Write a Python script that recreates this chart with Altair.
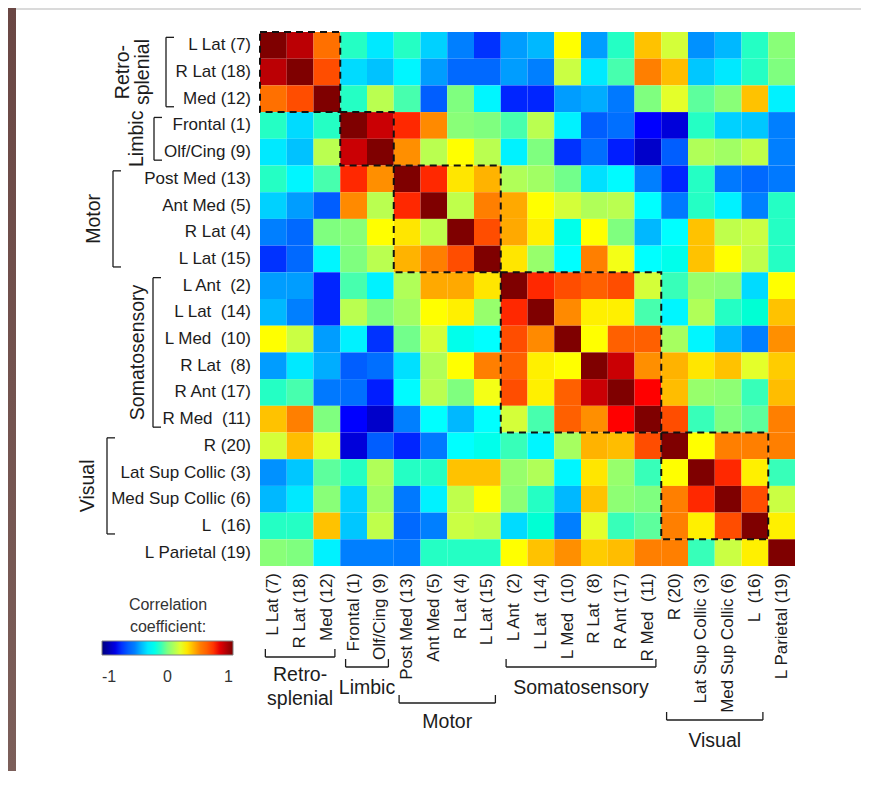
import altair as alt
import pandas as pd

# ---------------- data ----------------
region_labels = [
    "L Lat (7)", "R Lat (18)", "Med (12)", "Frontal (1)", "Olf/Cing (9)",
    "Post Med (13)", "Ant Med (5)", "R Lat (4)", "L Lat (15)",
    "L Ant\u00a0 (2)", "L Lat\u00a0 (14)", "L Med\u00a0 (10)", "R Lat\u00a0 (8)",
    "R Ant (17)", "R Med\u00a0 (11)", "R (20)", "Lat Sup Collic (3)",
    "Med Sup Collic (6)", "L\u00a0 (16)", "L Parietal (19)",
]
group_names = ["Retro-splenial", "Limbic", "Motor", "Somatosensory", "Visual"]
group_first = [0, 3, 5, 9, 15]
group_last = [2, 4, 8, 14, 18]

# upper triangle of the correlation matrix (row i, columns i+1 .. 19)
upper_0 = [0.88, 0.55, -0.12, -0.30, -0.12, -0.35, -0.50, -0.70, -0.45,
           -0.40, 0.25, -0.45, -0.12, 0.37, 0.17, -0.47, -0.40, -0.12, 0.02]
upper_1 = [0.65, -0.33, -0.38, -0.27, -0.45, -0.57, -0.57, -0.45,
           -0.50, 0.15, -0.30, -0.08, 0.50, 0.38, -0.37, -0.30, -0.12, 0.00]
upper_2 = [-0.12, 0.12, -0.08, -0.60, 0.00, -0.27, -0.72,
           -0.72, -0.45, -0.42, -0.52, 0.00, 0.20, -0.05, 0.02, 0.37, -0.28]
upper_3 = [0.85, 0.72, 0.48, 0.02, 0.00, -0.08,
           0.12, -0.28, -0.60, -0.55, -0.75, -0.82, -0.12, -0.35, -0.37, -0.50]
upper_4 = [0.47, 0.12, 0.25, 0.12, -0.28,
           0.00, -0.70, -0.55, -0.73, -0.85, -0.60, 0.10, 0.07, 0.13, -0.50]
upper_5 = [0.72, 0.30, 0.40, 0.10,
           0.07, -0.02, -0.32, -0.26, -0.50, -0.72, -0.12, -0.52, -0.57, -0.52]
upper_6 = [0.13, 0.50, 0.42,
           0.25, 0.17, 0.10, 0.12, -0.25, -0.52, -0.12, -0.28, -0.50, -0.12]
upper_7 = [0.65, 0.42,
           0.28, -0.20, 0.25, 0.00, -0.40, -0.25, 0.37, 0.13, 0.15, -0.12]
upper_8 = [0.30,
           0.05, -0.25, 0.50, 0.23, -0.25, -0.20, 0.37, 0.25, 0.13, -0.12]
upper_9 = [0.72, 0.65, 0.60, 0.65, 0.17, -0.10, 0.05, 0.03, -0.33, 0.25]
upper_10 = [0.48, 0.28, 0.28, -0.08, -0.27, 0.10, -0.12, -0.15, 0.37]
upper_11 = [0.25, 0.60, 0.60, 0.08, -0.27, -0.40, -0.50, 0.47]
upper_12 = [0.85, 0.47, 0.40, 0.30, 0.37, 0.20, 0.35]
upper_13 = [0.75, 0.38, 0.05, 0.03, -0.10, 0.38]
upper_14 = [0.65, -0.10, 0.00, -0.05, 0.50]
upper_15 = [0.25, 0.50, 0.50, 0.50]
upper_16 = [0.72, 0.28, -0.10]
upper_17 = [0.65, 0.15]
upper_18 = [0.28]

upper_rows = [upper_0, upper_1, upper_2, upper_3, upper_4, upper_5, upper_6,
              upper_7, upper_8, upper_9, upper_10, upper_11, upper_12,
              upper_13, upper_14, upper_15, upper_16, upper_17, upper_18]

jet_stops = [-1.0, -0.75, -0.5, -0.25, 0.0, 0.25, 0.5, 0.75, 1.0]
jet_colors = ["#00007f", "#0000ff", "#007fff", "#00ffff", "#7fff7f",
              "#ffff00", "#ff7f00", "#ff0000", "#7f0000"]

# ---------------- build tables ----------------
N = len(region_labels)
corr = [[1.0] * N for _ in range(N)]
for i, row in enumerate(upper_rows):
    for k, v in enumerate(row):
        j = i + 1 + k
        corr[i][j] = v
        corr[j][i] = v

cells = pd.DataFrame([
    {"r0": i, "r1": i + 1, "c0": j, "c1": j + 1, "value": corr[i][j]}
    for i in range(N) for j in range(N)
])
labels_df = pd.DataFrame({"label": region_labels,
                          "mid": [i + 0.5 for i in range(N)]})
groups_df = pd.DataFrame({"name": group_names, "g0": group_first,
                          "g1": [g + 1 for g in group_last]})

# ---------------- layout ----------------
W, H = 535, 534
PAD = {"left": 252, "top": 24, "right": 66, "bottom": 205}


def px(x):
    return x - 8 - PAD["left"]


def py(y):
    return y - 8 - PAD["top"]


FONT = "Liberation Sans"
TXT = "#1c1c1c"
xs = alt.Scale(domain=[0, N], nice=False, zero=False)
ys = alt.Scale(domain=[0, N], nice=False, zero=False, reverse=True)


def X(f):
    return alt.X(f, scale=xs, axis=None)


def Y(f):
    return alt.Y(f, scale=ys, axis=None)


one = pd.DataFrame({"a": [0]})
layers = []

# page frame (left strip + thin grey line)
layers.append(alt.Chart(one).mark_rect(
    fill=alt.Gradient(gradient="linear",
                      stops=[alt.GradientStop(color="#6a4744", offset=0),
                             alt.GradientStop(color="#7c5f5a", offset=1)],
                      x1=0, x2=0, y1=0, y2=1)
).encode(x=alt.value(-PAD["left"]), x2=alt.value(-PAD["left"] + 8),
         y=alt.value(-PAD["top"]), y2=alt.value(H + PAD["bottom"])))
layers.append(alt.Chart(one).mark_rule(color="#dadada", strokeWidth=2).encode(
    x=alt.value(-PAD["left"] + 8), x2=alt.value(W + PAD["right"]),
    y=alt.value(-PAD["top"] + 1)))

# heatmap
layers.append(alt.Chart(cells).mark_rect(strokeWidth=0).encode(
    x=X("c0:Q"), x2="c1:Q", y=Y("r0:Q"), y2="r1:Q",
    color=alt.Color("value:Q",
                    scale=alt.Scale(domain=jet_stops, range=jet_colors),
                    legend=alt.Legend(
                        orient="none", legendX=px(102), legendY=py(597),
                        direction="horizontal", gradientLength=131,
                        gradientThickness=14, padding=0,
                        title=["Correlation", "coefficient:"],
                        titleFont=FONT, titleFontSize=16,
                        titleFontWeight="normal", titleColor="#333333",
                        titleAnchor="middle", titleAlign="center",
                        titleLineHeight=22, titlePadding=6,
                        values=[-1, 0, 1], labelExpr="'' + datum.value",
                        labelFont=FONT, labelFontSize=16,
                        labelColor="#333333", labelAlign="center",
                        labelOffset=14,
                        gradientStrokeColor="#808080",
                        gradientStrokeWidth=1))))

# dashed group boxes
layers.append(alt.Chart(groups_df).mark_rect(
    filled=False, stroke="#111111", strokeWidth=2, strokeDash=[7, 5]
).encode(x=X("g0:Q"), x2="g1:Q", y=Y("g0:Q"), y2="g1:Q"))

# row labels
layers.append(alt.Chart(labels_df).mark_text(
    align="right", baseline="middle", font=FONT, fontSize=17, color=TXT
).encode(y=Y("mid:Q"), x=alt.value(px(251)), text="label:N"))

# column labels
layers.append(alt.Chart(labels_df).mark_text(
    align="right", baseline="middle", angle=270, font=FONT, fontSize=17,
    color=TXT
).encode(x=X("mid:Q"), y=alt.value(py(573)), text="label:N"))

# group brackets and names
left_bracket_x = [166, 154, 113, 153, 107]
left_name_x = [[123, 143], [137], [94], [138], [88]]
left_name_text = [["Retro-", "splenial"], ["Limbic"], ["Motor"],
                  ["Somatosensory"], ["Visual"]]
bottom_bracket_y = [657, 667, 703, 667, 720]
bottom_name_y = [[675, 699], [688], [722], [688], [741]]
TICK = 8
INSET = 0.2

for gi in range(len(group_names)):
    g0 = group_first[gi]
    g1 = group_last[gi] + 1
    span = pd.DataFrame({"s": [g0 + INSET], "e": [g1 - INSET],
                         "m": [(g0 + g1) / 2]})
    ends = pd.DataFrame({"p": [g0 + INSET, g1 - INSET]})
    bx = px(left_bracket_x[gi])
    layers.append(alt.Chart(span).mark_rule(color=TXT, strokeWidth=1.3).encode(
        x=alt.value(bx), y=Y("s:Q"), y2="e:Q"))
    layers.append(alt.Chart(ends).mark_rule(color=TXT, strokeWidth=1.3).encode(
        x=alt.value(bx), x2=alt.value(bx + TICK), y=Y("p:Q")))
    for tx, tt in zip(left_name_x[gi], left_name_text[gi]):
        layers.append(alt.Chart(span).mark_text(
            angle=270, align="center", baseline="middle", font=FONT,
            fontSize=19.5, color=TXT, text=tt
        ).encode(x=alt.value(px(tx)), y=Y("m:Q")))
    by = py(bottom_bracket_y[gi])
    layers.append(alt.Chart(span).mark_rule(color=TXT, strokeWidth=1.3).encode(
        y=alt.value(by), x=X("s:Q"), x2="e:Q"))
    layers.append(alt.Chart(ends).mark_rule(color=TXT, strokeWidth=1.3).encode(
        y=alt.value(by), y2=alt.value(by - TICK), x=X("p:Q")))
    for ty, tt in zip(bottom_name_y[gi], left_name_text[gi]):
        layers.append(alt.Chart(span).mark_text(
            align="center", baseline="middle", font=FONT, fontSize=19.5,
            color=TXT, text=tt
        ).encode(x=X("m:Q"), y=alt.value(py(ty))))

chart = alt.layer(*layers).properties(
    width=W, height=H,
    autosize=alt.AutoSizeParams(type="none"),
    padding=PAD,
    background="white",
).configure_view(strokeWidth=0)

chart.save("out.html", embed_options={"renderer": "svg", "actions": False})
